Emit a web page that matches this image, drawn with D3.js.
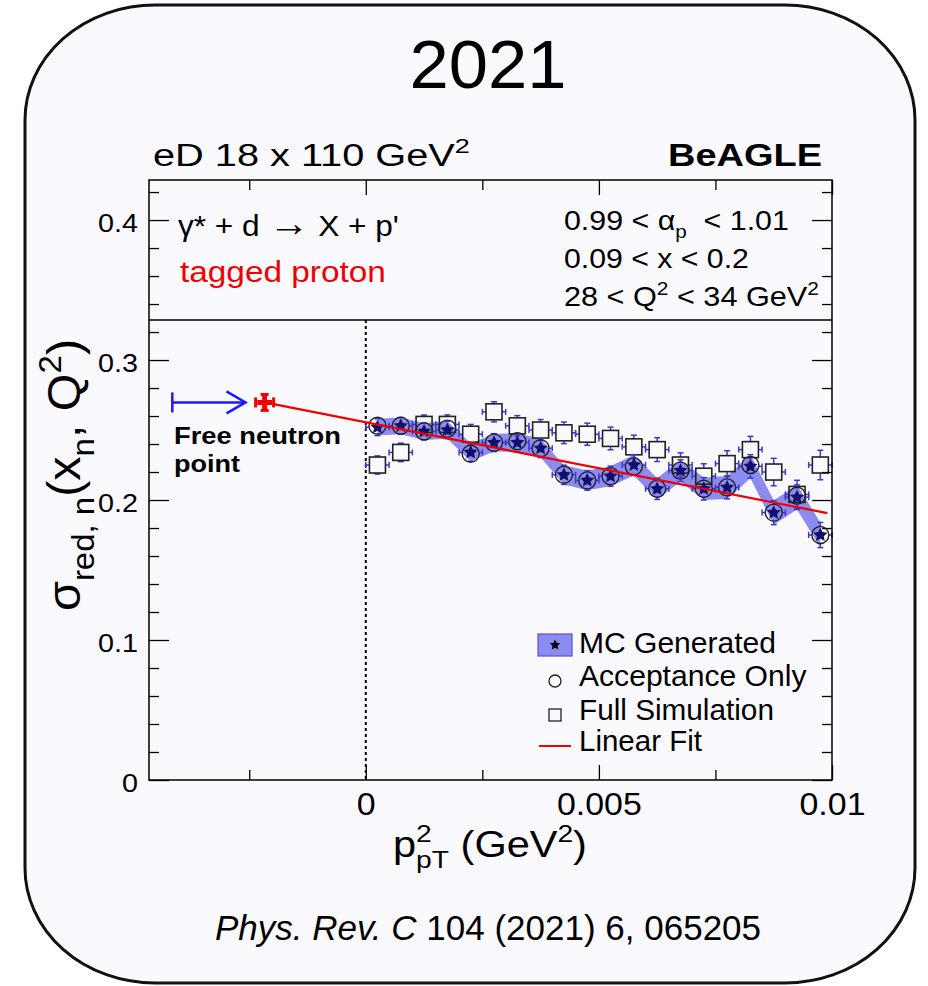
<!DOCTYPE html>
<html>
<head>
<meta charset="utf-8">
<script src="https://cdn.jsdelivr.net/npm/d3@7"></script>
<style>
  html, body { margin: 0; padding: 0; background: #fff; }
  svg { display: block; font-family: "Liberation Sans", Arial, Helvetica, sans-serif; }
</style>
</head>
<body>
<svg id="chart" width="928" height="986"></svg>
<script>
// Reduced cross section vs p_T^2, BeAGLE eD 18 x 110, tagged proton

// --- data ---
const binCenters = [0.00025, 0.00075, 0.00125, 0.00175, 0.00225, 0.00275, 0.00325, 0.00375, 0.00425, 0.00475,
                    0.00525, 0.00575, 0.00625, 0.00675, 0.00725, 0.00775, 0.00825, 0.00875, 0.00925, 0.00975];
const binHalfWidth = 0.00025;
const mcGenerated = [0.252, 0.253, 0.249, 0.250, 0.234, 0.241, 0.241, 0.237, 0.218, 0.214,
                     0.217, 0.225, 0.208, 0.221, 0.208, 0.209, 0.224, 0.191, 0.202, 0.175];
const mcErr = [0.0060, 0.0060, 0.0061, 0.0062, 0.0063, 0.0064, 0.0066, 0.0067, 0.0069, 0.0070,
               0.0072, 0.0074, 0.0076, 0.0078, 0.0080, 0.0082, 0.0084, 0.0086, 0.0088, 0.0090];
const acceptanceOnly = [0.253, 0.253, 0.249, 0.251, 0.233, 0.241, 0.242, 0.237, 0.218, 0.214,
                        0.217, 0.224, 0.208, 0.221, 0.208, 0.209, 0.225, 0.191, 0.203, 0.175];
const fullSimulation = [0.225, 0.234, 0.254, 0.254, 0.247, 0.263, 0.253, 0.250, 0.248, 0.247,
                        0.244, 0.238, 0.236, 0.225, 0.217, 0.226, 0.236, 0.220, 0.204, 0.225];
const simErr = [0.0065, 0.0066, 0.0067, 0.0068, 0.0070, 0.0072, 0.0073, 0.0075, 0.0077, 0.0079,
                0.0081, 0.0083, 0.0085, 0.0087, 0.0089, 0.0092, 0.0095, 0.0098, 0.0101, 0.0105];
const freeNeutronPoint = [-0.00217, 0.2697];
const arrowRange = [-0.00415, -0.00258];
const linearFit = [0.2555, -6.55];          // intercept, slope
const fitRange = [-0.00217, 0.0099];
const dividerLevel = 0.3286;

const xMajorTicks = [0, 0.005, 0.01];
const xTickLabels = ['0', '0.005', '0.01'];
const xMinorTicks = [-0.0025, 0.0025, 0.0075];
const yMajorTicks = [0, 0.1, 0.2, 0.3, 0.4];
const yTickLabels = ['0', '0.1', '0.2', '0.3', '0.4'];
const yMinorTicks = [0.02, 0.04, 0.06, 0.08, 0.12, 0.14, 0.16, 0.18, 0.22, 0.24, 0.26, 0.28,
                     0.32, 0.34, 0.36, 0.38, 0.42];

// --- setup ---
const BAND = '#8b8bf0';
const ERR = '#3a3ad0';
const RED = '#ee0000';
const BG = '#f9f9fe';

const svg = d3.select('#chart');
const PLOT = { left: 149, right: 832, top: 180, bottom: 780 };

const x = d3.scaleLinear().domain([-0.00465, 0.01]).range([PLOT.left, PLOT.right]);
const y = d3.scaleLinear().domain([0, 0.4286]).range([PLOT.bottom, PLOT.top]);

// ROOT-like full star (fatter than d3.symbolStar); size = outer radius squared
const fatStar = {
    draw(ctx, size) {
        const R = Math.sqrt(size), r = R * 0.48;
        for (let i = 0; i < 10; i++) {
            const a = -Math.PI / 2 + i * Math.PI / 5;
            const rr = i % 2 ? r : R;
            if (i === 0) ctx.moveTo(rr * Math.cos(a), rr * Math.sin(a));
            else ctx.lineTo(rr * Math.cos(a), rr * Math.sin(a));
        }
        ctx.closePath();
    }
};

// text helpers: ROOT text is a bit wider than Liberation Sans
function stretchX(sel, sx) {
    sel.each(function() {
        const t = d3.select(this);
        const ax = +t.attr('x') || 0;
        t.attr('transform', `translate(${ax},0) scale(${sx},1) translate(${-ax},0)`);
    });
}
function fitWidth(sel, w) {
    const bw = sel.node().getBBox().width;
    stretchX(sel, w / bw);
    return sel;
}
function richText(parent, xPos, yPos, size, parts) {
    const t = parent.append('text')
        .attr('x', xPos).attr('y', yPos)
        .style('font-size', size + 'px')
        .style('white-space', 'pre');
    let shift = 0;
    parts.forEach(([s, kind, dx]) => {
        const target = kind === 'sup' ? -0.42 * size : kind === 'sub' ? 0.3 * size : 0;
        const ts = t.append('tspan').attr('dy', target - shift).text(s);
        if (dx) ts.attr('dx', dx);
        if (kind === 'big') ts.style('font-size', (1.3 * size) + 'px');
        else if (kind !== 'n') ts.style('font-size', (0.68 * size) + 'px');
        shift = target;
    });
    return t;
}

// --- slide frame ---
svg.append('rect')
    .attr('x', 25).attr('y', 5).attr('width', 890).attr('height', 978)
    .attr('rx', 130).attr('ry', 115)
    .attr('fill', BG).attr('stroke', '#111').attr('stroke-width', 3);

svg.append('text')
    .attr('x', 488).attr('y', 88)
    .attr('text-anchor', 'middle')
    .style('font-size', '68px')
    .text('2021')
    .call(fitWidth, 157);

// --- band (MC generated) ---
const pts = binCenters.map((b, i) => ({ x: b, mc: mcGenerated[i], mcE: mcErr[i], acc: acceptanceOnly[i], sim: fullSimulation[i], simE: simErr[i] }));

svg.append('path')
    .datum(pts)
    .attr('fill', BAND)
    .attr('d', d3.area().x(d => x(d.x)).y0(d => y(d.mc - d.mcE)).y1(d => y(d.mc + d.mcE)));

// divider and x = 0 line
svg.append('line')
    .attr('x1', PLOT.left).attr('x2', PLOT.right)
    .attr('y1', y(dividerLevel)).attr('y2', y(dividerLevel))
    .attr('stroke', '#000').attr('stroke-width', 1.3);

svg.append('line')
    .attr('x1', x(0)).attr('x2', x(0))
    .attr('y1', y(dividerLevel)).attr('y2', y(0))
    .attr('stroke', '#000').attr('stroke-width', 2)
    .attr('stroke-dasharray', '3,3');

// --- error bars, drawn only outside the marker like ROOT does ---
function errorBars(key, errKey, half) {
    const g = svg.append('g').attr('stroke', ERR).attr('stroke-width', 1.5).attr('fill', 'none');
    const cap = 3;
    pts.forEach(d => {
        const cx = x(d.x), cy = y(d[key]);
        const xl = x(d.x - binHalfWidth), xr = x(d.x + binHalfWidth);
        const yt = y(d[key] + d[errKey]), yb = y(d[key] - d[errKey]);
        if (cx - xl > half) {
            g.append('line').attr('x1', xl).attr('x2', cx - half).attr('y1', cy).attr('y2', cy);
            g.append('line').attr('x1', cx + half).attr('x2', xr).attr('y1', cy).attr('y2', cy);
        }
        g.append('line').attr('x1', xl).attr('x2', xl).attr('y1', cy - cap).attr('y2', cy + cap);
        g.append('line').attr('x1', xr).attr('x2', xr).attr('y1', cy - cap).attr('y2', cy + cap);
        if (cy - yt > half) {
            g.append('line').attr('x1', cx).attr('x2', cx).attr('y1', yt).attr('y2', cy - half);
            g.append('line').attr('x1', cx).attr('x2', cx).attr('y1', cy + half).attr('y2', yb);
        }
        g.append('line').attr('x1', cx - cap).attr('x2', cx + cap).attr('y1', yt).attr('y2', yt);
        g.append('line').attr('x1', cx - cap).attr('x2', cx + cap).attr('y1', yb).attr('y2', yb);
    });
}

errorBars('sim', 'simE', 8);
svg.append('g').selectAll('rect')
    .data(pts).join('rect')
    .attr('x', d => x(d.x) - 8).attr('y', d => y(d.sim) - 8)
    .attr('width', 16).attr('height', 16)
    .attr('fill', 'none').attr('stroke', '#222').attr('stroke-width', 1.6);

errorBars('mc', 'mcE', 8.5);
svg.append('g').selectAll('circle')
    .data(pts).join('circle')
    .attr('cx', d => x(d.x)).attr('cy', d => y(d.acc)).attr('r', 8.5)
    .attr('fill', 'none').attr('stroke', '#222').attr('stroke-width', 1.4);

svg.append('g').selectAll('path')
    .data(pts).join('path')
    .attr('transform', d => `translate(${x(d.x)},${y(d.mc)})`)
    .attr('d', d3.symbol(fatStar, 56))
    .attr('fill', '#101068');

// --- linear fit ---
svg.append('line')
    .attr('x1', x(fitRange[0])).attr('y1', y(linearFit[0] + linearFit[1] * fitRange[0]))
    .attr('x2', x(fitRange[1])).attr('y2', y(linearFit[0] + linearFit[1] * fitRange[1]))
    .attr('stroke', RED).attr('stroke-width', 2.2);

// free neutron point
const fnx = x(freeNeutronPoint[0]), fny = y(freeNeutronPoint[1]);
svg.append('path')
    .attr('transform', `translate(${fnx},${fny})`)
    .attr('d', d3.symbol(d3.symbolCross, 120))
    .attr('fill', RED);
const fnCaps = svg.append('g').attr('stroke', RED).attr('stroke-width', 3);
fnCaps.append('line').attr('x1', fnx - 9).attr('x2', fnx - 9).attr('y1', fny - 5).attr('y2', fny + 5);
fnCaps.append('line').attr('x1', fnx + 9).attr('x2', fnx + 9).attr('y1', fny - 5).attr('y2', fny + 5);
fnCaps.append('line').attr('x1', fnx - 4).attr('x2', fnx + 4).attr('y1', fny - 8).attr('y2', fny - 8);
fnCaps.append('line').attr('x1', fnx - 4).attr('x2', fnx + 4).attr('y1', fny + 8).attr('y2', fny + 8);

// blue arrow
const arrow = svg.append('g').attr('stroke', '#1a1aff').attr('stroke-width', 2.5).attr('fill', 'none');
const ax0 = x(arrowRange[0]), ax1 = x(arrowRange[1]);
arrow.append('line').attr('x1', ax0).attr('x2', ax1).attr('y1', fny).attr('y2', fny);
arrow.append('line').attr('x1', ax0).attr('x2', ax0).attr('y1', fny - 10).attr('y2', fny + 10);
arrow.append('path').attr('d', `M${ax1 - 19},${fny - 11}L${ax1},${fny}L${ax1 - 19},${fny + 11}`);

svg.append('text').attr('x', 174).attr('y', 444)
    .style('font-size', '24px').style('font-weight', 'bold')
    .text('Free neutron').call(fitWidth, 167);
svg.append('text').attr('x', 174).attr('y', 472)
    .style('font-size', '24px').style('font-weight', 'bold')
    .text('point').call(fitWidth, 66);

// --- frame and axes ---
svg.append('rect')
    .attr('x', PLOT.left).attr('y', PLOT.top)
    .attr('width', PLOT.right - PLOT.left).attr('height', PLOT.bottom - PLOT.top)
    .attr('fill', 'none').attr('stroke', '#000').attr('stroke-width', 1.5);

function cleanAxis(g) {
    g.attr('font-size', null).attr('font-family', null);
    g.select('.domain').remove();
    g.selectAll('.tick line').attr('stroke', '#000').attr('stroke-width', 1.3);
}

const xb = svg.append('g').attr('transform', `translate(0,${PLOT.bottom})`)
    .call(d3.axisBottom(x).tickValues(xMajorTicks).tickSize(-15).tickPadding(12)
        .tickFormat((d, i) => xTickLabels[i]))
    .call(cleanAxis);
xb.selectAll('.tick text').style('font-size', '32px').attr('fill', '#000').call(stretchX, 1.06);

svg.append('g').attr('transform', `translate(0,${PLOT.bottom})`)
    .call(d3.axisBottom(x).tickValues(xMinorTicks).tickSize(-10).tickFormat(''))
    .call(cleanAxis);
svg.append('g').attr('transform', `translate(0,${PLOT.top})`)
    .call(d3.axisTop(x).tickValues(xMajorTicks).tickSize(-15).tickFormat(''))
    .call(cleanAxis);
svg.append('g').attr('transform', `translate(0,${PLOT.top})`)
    .call(d3.axisTop(x).tickValues(xMinorTicks).tickSize(-10).tickFormat(''))
    .call(cleanAxis);

const yl = svg.append('g').attr('transform', `translate(${PLOT.left},0)`)
    .call(d3.axisLeft(y).tickValues(yMajorTicks).tickSize(-20).tickPadding(11)
        .tickFormat((d, i) => yTickLabels[i]))
    .call(cleanAxis);
yl.selectAll('.tick text').style('font-size', '25px').attr('fill', '#000').attr('dy', '0.45em').call(stretchX, 1.15);

svg.append('g').attr('transform', `translate(${PLOT.left},0)`)
    .call(d3.axisLeft(y).tickValues(yMinorTicks).tickSize(-10).tickFormat(''))
    .call(cleanAxis);
svg.append('g').attr('transform', `translate(${PLOT.right},0)`)
    .call(d3.axisRight(y).tickValues(yMajorTicks).tickSize(-20).tickFormat(''))
    .call(cleanAxis);
svg.append('g').attr('transform', `translate(${PLOT.right},0)`)
    .call(d3.axisRight(y).tickValues(yMinorTicks).tickSize(-10).tickFormat(''))
    .call(cleanAxis);

// axis titles
richText(svg, 393, 857, 36, [['p', 'n'], ['2', 'sup'], ['pT', 'sub', -13.6], [' (GeV', 'n'], ['2', 'sup'], [')', 'n']])
    .call(fitWidth, 194);

const yTitle = svg.append('g').attr('transform', 'translate(80,475) rotate(-90)');
richText(yTitle, 0, 0, 46, [['\u03c3', 'n'], ['red, n', 'sub'], ['(x', 'n'], ['n', 'sub'], [', Q', 'n'], ['2', 'sup'], [')', 'n']])
    .attr('text-anchor', 'middle')
    .call(fitWidth, 272);

// --- header texts ---
richText(svg, 153, 166, 31, [['eD 18 x 110 GeV', 'n'], ['2', 'sup']]).call(fitWidth, 317);
svg.append('text').attr('x', 822).attr('y', 166)
    .attr('text-anchor', 'end')
    .style('font-size', '32px').style('font-weight', 'bold')
    .text('BeAGLE').call(fitWidth, 154);

richText(svg, 178, 236, 29, [['\u03b3* + d ', 'n'], ['\u2192', 'big'], [' X + p\'', 'n']]).call(fitWidth, 221);
svg.append('text').attr('x', 180).attr('y', 282)
    .style('font-size', '30px').attr('fill', RED)
    .text('tagged proton').call(fitWidth, 206);

richText(svg, 564, 230, 27, [['0.99 < \u03b1', 'n'], ['p', 'sub'], ['  < 1.01', 'n']]).call(fitWidth, 225);
richText(svg, 564, 268, 27, [['0.09 < x < 0.2', 'n']]).call(fitWidth, 185);
richText(svg, 564, 306, 27, [['28 < Q', 'n'], ['2', 'sup'], [' < 34 GeV', 'n'], ['2', 'sup']]).call(fitWidth, 255);

// --- legend ---
const legend = svg.append('g');
legend.append('rect')
    .attr('x', 538).attr('y', 634).attr('width', 34).attr('height', 22)
    .attr('fill', BAND).attr('stroke', '#5555cc').attr('stroke-width', 1.2);
legend.append('path')
    .attr('transform', 'translate(555,645)')
    .attr('d', d3.symbol(fatStar, 30))
    .attr('fill', '#000');
legend.append('circle')
    .attr('cx', 555).attr('cy', 681).attr('r', 6)
    .attr('fill', 'none').attr('stroke', '#222').attr('stroke-width', 1.3);
legend.append('rect')
    .attr('x', 549).attr('y', 709).attr('width', 12).attr('height', 12)
    .attr('fill', 'none').attr('stroke', '#222').attr('stroke-width', 1.3);
legend.append('line')
    .attr('x1', 539).attr('x2', 571).attr('y1', 746).attr('y2', 746)
    .attr('stroke', RED).attr('stroke-width', 2);

const legendItems = [['MC Generated', 653, 197], ['Acceptance Only', 686, 228], ['Full Simulation', 720, 195], ['Linear Fit', 751, 123]];
legendItems.forEach(([label, yb, w]) => {
    legend.append('text').attr('x', 579).attr('y', yb)
        .style('font-size', '29px')
        .text(label).call(fitWidth, w);
});

// --- citation ---
const cite = svg.append('text')
    .attr('x', 488).attr('y', 940)
    .attr('text-anchor', 'middle')
    .style('font-size', '35px')
    .style('white-space', 'pre');
cite.append('tspan').style('font-style', 'italic').text('Phys. Rev. C');
cite.append('tspan').text(' 104 (2021) 6, 065205');
</script>
</body>
</html>
